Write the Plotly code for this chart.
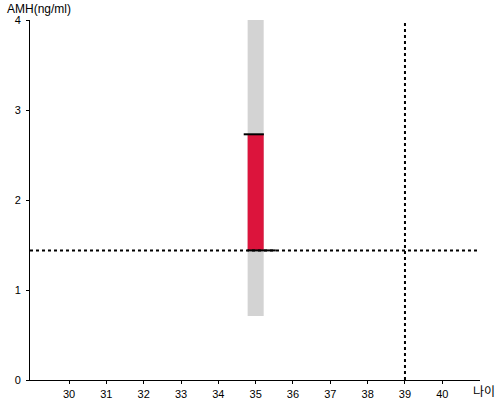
import plotly.graph_objects as go

# data
age = 35
amh_range_low = 0.71
amh_range_high = 4.0
amh_low = 1.44
amh_high = 2.73
ref_age = 39
ref_amh = 1.44
x_ticks = [30, 31, 32, 33, 34, 35, 36, 37, 38, 39, 40]
y_ticks = [0, 1, 2, 3, 4]
x_range = [28.955, 41.01]
y_range = [0, 4]

fig = go.Figure()

# grey normal range band
fig.add_trace(go.Bar(
    x=[age], y=[amh_range_high - amh_range_low], base=[amh_range_low],
    width=0.43, marker={"color": "#d3d3d3", "line": {"width": 0}},
    hoverinfo="skip", showlegend=False,
))
# red measured range
fig.add_trace(go.Bar(
    x=[age], y=[amh_high - amh_low], base=[amh_low],
    width=0.43, marker={"color": "#dc143c", "line": {"width": 0}},
    hoverinfo="skip", showlegend=False,
))
# black caps
fig.add_trace(go.Scatter(
    x=[age - 0.32, age + 0.22], y=[amh_high, amh_high], mode="lines",
    line={"color": "black", "width": 2}, hoverinfo="skip", showlegend=False,
))
fig.add_trace(go.Scatter(
    x=[age - 0.22, age + 0.54], y=[amh_low, amh_low], mode="lines",
    line={"color": "black", "width": 2}, hoverinfo="skip", showlegend=False,
))
# dotted reference lines
fig.add_trace(go.Scatter(
    x=x_range, y=[ref_amh, ref_amh], mode="lines",
    line={"color": "black", "width": 2, "dash": "dot"}, hoverinfo="skip", showlegend=False,
))
fig.add_trace(go.Scatter(
    x=[ref_age, ref_age], y=y_range, mode="lines",
    line={"color": "black", "width": 2, "dash": "dot"}, hoverinfo="skip", showlegend=False,
))

fig.update_layout(
    width=500,
    height=400,
    paper_bgcolor="white",
    plot_bgcolor="white",
    font={"family": "Liberation Sans, Arial, sans-serif", "size": 11, "color": "black"},
    margin={"l": 30, "r": 20, "t": 20, "b": 20, "autoexpand": False},
    barmode="overlay",
    showlegend=False,
    xaxis={
        "range": x_range,
        "tickvals": x_ticks,
        "showgrid": False,
        "zeroline": False,
        "showline": True,
        "linecolor": "black",
        "linewidth": 1,
        "ticks": "outside",
        "ticklen": 3,
        "tickcolor": "black",
        "ticklabelstandoff": 1,
        "automargin": False,
    },
    yaxis={
        "range": y_range,
        "tickvals": y_ticks,
        "showgrid": False,
        "zeroline": False,
        "showline": True,
        "linecolor": "black",
        "linewidth": 1,
        "ticks": "outside",
        "ticklen": 3,
        "tickcolor": "black",
        "ticklabelstandoff": 3,
        "automargin": False,
    },
    annotations=[
        {"text": "AMH(ng/ml)", "xref": "paper", "yref": "paper", "x": -0.0556, "y": 1.0,
         "xanchor": "left", "yanchor": "middle", "showarrow": False,
         "font": {"size": 12}, "yshift": 11},
        {"text": "나이", "xref": "paper", "yref": "paper", "x": 1.0, "y": 0,
         "xanchor": "left", "yanchor": "middle", "showarrow": False,
         "font": {"size": 12, "family": "Noto Sans CJK KR"}, "xshift": -9, "yshift": -10},
    ],
)

fig.write_html(
    "out.html",
    config={"displayModeBar": False},
    post_script="document.body.style.margin = '0';",
)
